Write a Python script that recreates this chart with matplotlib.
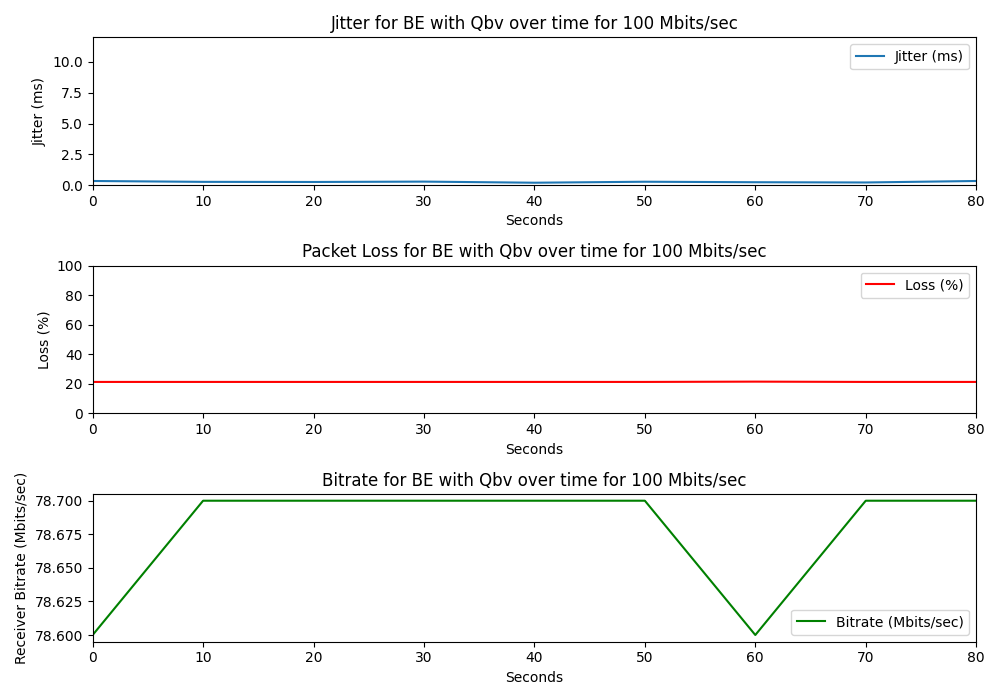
import matplotlib
matplotlib.use("Agg")
import matplotlib.pyplot as plt

seconds = [0, 10, 20, 30, 40, 50, 60, 70, 80]
jitter = [0.33, 0.26, 0.25, 0.28, 0.19, 0.27, 0.23, 0.21, 0.33]
loss = [21.3, 21.3, 21.3, 21.3, 21.3, 21.3, 21.5, 21.3, 21.3]
bitrate = [78.6, 78.7, 78.7, 78.7, 78.7, 78.7, 78.6, 78.7, 78.7]

fig, axes = plt.subplots(3, 1, figsize=(10, 7), dpi=100)

ax = axes[0]
ax.plot(seconds, jitter, label="Jitter (ms)")
ax.set_ylim(0, 12)
ax.set_xlim(0, 80)
ax.set_title("Jitter for BE with Qbv over time for 100 Mbits/sec")
ax.set_xlabel("Seconds"); ax.set_ylabel("Jitter (ms)")
ax.legend(loc="upper right")

ax = axes[1]
ax.plot(seconds, loss, color="red", label="Loss (%)")
ax.set_ylim(0, 100)
ax.set_xlim(0, 80)
ax.set_title("Packet Loss for BE with Qbv over time for 100 Mbits/sec")
ax.set_xlabel("Seconds"); ax.set_ylabel("Loss (%)")
ax.legend(loc="upper right")

ax = axes[2]
ax.plot(seconds, bitrate, color="green", label="Bitrate (Mbits/sec)")
ax.set_xlim(0, 80)
ax.set_title("Bitrate for BE with Qbv over time for 100 Mbits/sec")
ax.set_xlabel("Seconds"); ax.set_ylabel("Receiver Bitrate (Mbits/sec)")
ax.legend(loc="lower right")

fig.tight_layout()
fig.savefig("out.png")
